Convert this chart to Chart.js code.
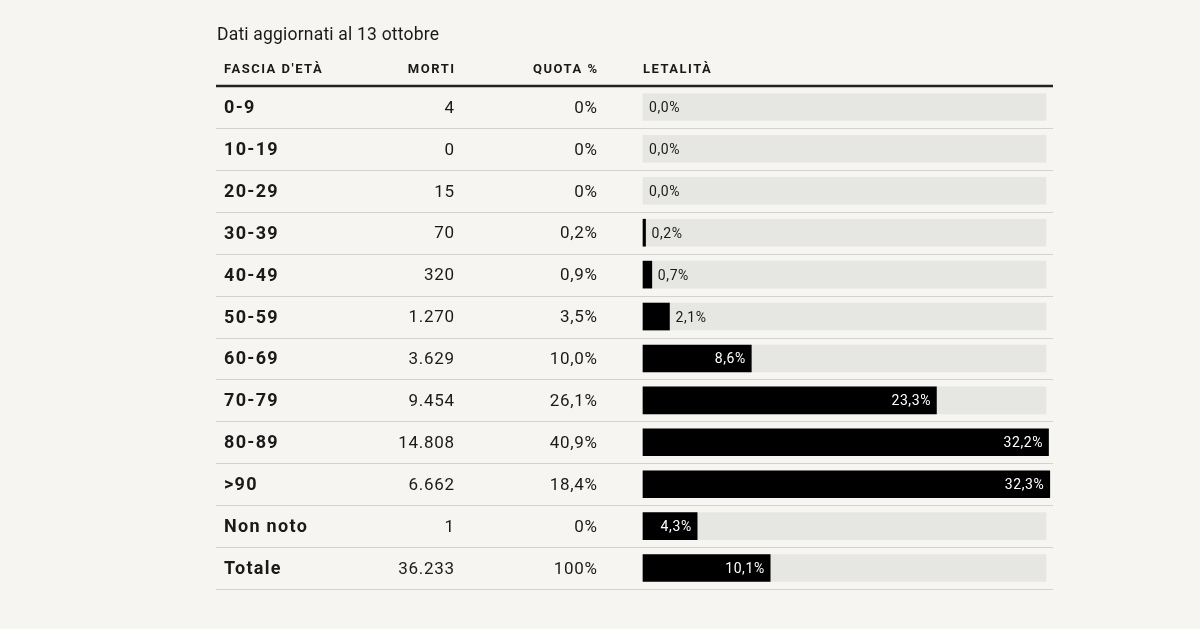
<!DOCTYPE html>
<html>
<head>
<meta charset="utf-8">
<script src="https://cdn.jsdelivr.net/npm/chart.js@4.4.0/dist/chart.umd.min.js"></script>
<style>
  html, body { margin: 0; padding: 0; background: #f6f5f1; }
  .chart-container { width: 1200px; height: 629px; position: relative; }
</style>
</head>
<body>
<div class="chart-container"><canvas id="myChart" width="1200" height="629"></canvas></div>
<script>
const categories = ['0-9', '10-19', '20-29', '30-39', '40-49', '50-59', '60-69', '70-79', '80-89', '>90', 'Non noto', 'Totale'];
const morti = [4, 0, 15, 70, 320, 1270, 3629, 9454, 14808, 6662, 1, 36233];
const quota = [0, 0, 0, 0.2, 0.9, 3.5, 10.0, 26.1, 40.9, 18.4, 0, 100];
const letalita = [0.0, 0.0, 0.0, 0.2, 0.7, 2.1, 8.6, 23.3, 32.2, 32.3, 4.3, 10.1];
const scaleMax = 32;
const headers = ["FASCIA D'ETÀ", 'MORTI', 'QUOTA %', 'LETALITÀ'];
const subtitle = 'Dati aggiornati al 13 ottobre';

const FONT = 'Roboto, "Noto Sans", sans-serif';

function fmtInt(n) {
    return String(n).replace(/\B(?=(\d{3})+(?!\d))/g, '.');
}
function fmtQuota(v) {
    if (v === 0 || v === 100) return v + '%';
    return v.toFixed(1).replace('.', ',') + '%';
}
function fmtPct(v) {
    return v.toFixed(1).replace('.', ',') + '%';
}

// text with letter spacing (trailing spacing removed when right aligned)
function textRight(c, s, x, y, sp) {
    c.textAlign = 'right';
    c.letterSpacing = sp + 'px';
    c.fillText(s, x + sp, y);
    c.letterSpacing = '0px';
}
function textLeft(c, s, x, y, sp) {
    c.textAlign = 'left';
    c.letterSpacing = sp + 'px';
    c.fillText(s, x, y);
    c.letterSpacing = '0px';
}

const tablePlugin = {
    id: 'table',
    beforeDraw(chart) {
        const c = chart.ctx;
        c.save();
        c.fillStyle = '#f6f5f1';
        c.fillRect(0, 0, chart.width, chart.height);
        c.restore();
    },
    afterDraw(chart) {
        const c = chart.ctx;
        const y = chart.scales.y;
        const x = chart.scales.x;
        const area = chart.chartArea;
        const left = 216, right = 1053;
        const band = (area.bottom - area.top) / categories.length;

        c.save();
        c.fillStyle = '#1a1a1a';
        c.textBaseline = 'middle';

        // subtitle
        c.font = '17.5px ' + FONT;
        textLeft(c, subtitle, 217, 36, 0.2);

        // headers
        c.font = 'bold 13px ' + FONT;
        textLeft(c, headers[0], 224, 69.5, 1.5);
        textRight(c, headers[1], 454, 69.5, 1.5);
        textRight(c, headers[2], 597, 69.5, 1.5);
        textLeft(c, headers[3], 643, 69.5, 1.5);

        // row separators
        c.strokeStyle = '#d3d2ce';
        c.lineWidth = 1.2;
        for (let i = 1; i <= categories.length; i++) {
            const yy = Math.round(area.top + band * i) + 0.5;
            c.beginPath();
            c.moveTo(left, yy);
            c.lineTo(right, yy);
            c.stroke();
        }
        // header rule
        c.strokeStyle = '#222';
        c.lineWidth = 2.5;
        c.beginPath();
        c.moveTo(left, area.top);
        c.lineTo(right, area.top);
        c.stroke();

        categories.forEach((cat, i) => {
            const yy = y.getPixelForValue(i) + 1.5;
            c.fillStyle = '#1a1a1a';
            c.font = 'bold 18px ' + FONT;
            textLeft(c, cat, 224, yy, 1.3);
            c.font = '17px ' + FONT;
            textRight(c, fmtInt(morti[i]), 454, yy, 0.7);
            textRight(c, fmtQuota(quota[i]), 597, yy, 0.7);

            // bar value labels
            const v = letalita[i];
            const x0 = x.getPixelForValue(0);
            const x1 = x.getPixelForValue(v);
            c.font = '14px ' + FONT;
            if (v > 3) {
                c.fillStyle = '#ffffff';
                textRight(c, fmtPct(v), x1 - 6, yy, 0.6);
            } else {
                c.fillStyle = '#1a1a1a';
                textLeft(c, fmtPct(v), Math.max(x1, x0) + 6, yy, 0.6);
            }
        });
        c.restore();
    }
};

const ctx = document.getElementById('myChart').getContext('2d');

const myChart = new Chart(ctx, {
    type: 'bar',
    data: {
        labels: categories,
        datasets: [
            {
                label: 'Letalità',
                data: letalita.map(v => (v > 0 ? v : null)),
                backgroundColor: '#000000',
                borderWidth: 0,
                grouped: false,
                order: 0,
                barThickness: 27,
            },
            {
                label: 'sfondo',
                data: categories.map(() => scaleMax),
                backgroundColor: '#e6e6e2',
                borderWidth: 0,
                grouped: false,
                order: 1,
                barThickness: 27,
            },
        ],
    },
    options: {
        indexAxis: 'y',
        responsive: false,
        animation: false,
        layout: {
            padding: { left: 643, right: 154, top: 86, bottom: 40 },
        },
        scales: {
            x: { display: false, min: 0, max: scaleMax },
            y: { display: false },
        },
        plugins: {
            legend: { display: false },
            tooltip: { enabled: false },
        },
        clip: false,
    },
    plugins: [tablePlugin],
});
</script>
</body>
</html>
